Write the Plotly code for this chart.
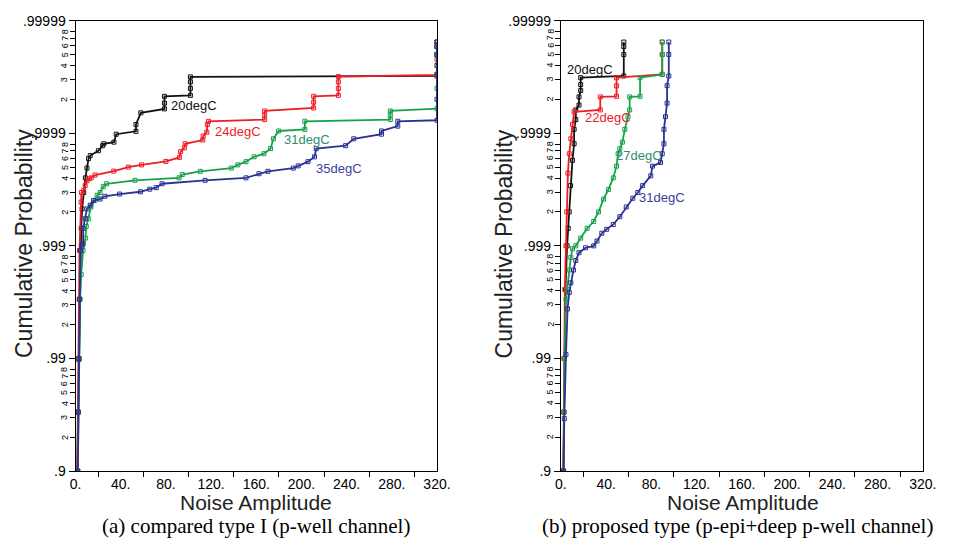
import math
import plotly.graph_objects as go

# ---------------- data (noise amplitude, cumulative probability) ----------------
# (a) compared type I (p-well channel)
a20_x = [1.5, 2.2, 2.9, 3.5, 4.3, 5.0, 5.8, 7.2, 8.7, 10.1, 11.5, 13.0, 20.2, 24.0, 25.0, 34.0, 36.0,
         53.5, 53.5, 57.8, 78.7, 78.7, 78.7, 101.7, 101.7, 101.7, 101.7, 320, 320, 320, 320, 320]
a20_p = [.9, .97, .9898, .99702, .99890, .99930, .99953, .999664, .999751, .999796, .999832, .999842,
         .999857, .999871, .999876, .999880, .999898, .9999038, .9999164, .9999341, .9999392, .999946,
         .999953, .9999539, .999960, .999965, .9999684, .999969, .999975, .999980, .999983, .9999845]

a24_x = [1.5, 2.2, 2.7, 3.2, 3.5, 4.9, 5.2, 7.2, 8.5, 10.1, 12.0, 13.9, 17.3, 33.8, 46.8, 58.4, 80.0,
         92.0, 93.0, 96.3, 97.0, 112.6, 113.0, 116.2, 116.7, 117.7, 167.4, 167.4, 167.4, 210.8, 210.8,
         210.8, 232.7, 232.7, 232.7, 232.7, 320, 320, 320, 320]
a24_p = [.9, .97, .99, .99702, .99890, .999591, .999664, .999677, .999708, .999736, .999746, .999751,
         .999765, .999783, .999800, .999809, .999822, .999836, .999854, .999865, .999876, .999885,
         .999894, .999902, .9999164, .9999217, .9999243, .999931, .9999366, .9999403, .999947, .999953,
         .9999539, .999960, .999965, .9999686, .9999696, .999978, .999983, .9999845]

a31_x = [2.0, 2.6, 3.2, 4.0, 5.0, 6.7, 8.7, 9.5, 11.3, 13.6, 17.3, 19.1, 21.7, 24.5, 27.5, 52.6, 91.7,
         94.5, 110.4, 137.9, 143.7, 150.9, 158.1, 166.8, 172.6, 175.2, 179.8, 203.0, 203.0, 278.7,
         278.7, 278.7, 320, 320, 320, 320, 320]
a31_p = [.9, .97, .99, .99702, .99820, .99890, .999147, .999327, .999426, .999548, .999606, .999644,
         .999664, .999702, .999719, .999738, .999751, .999767, .999782, .999796, .999809, .999821,
         .999838, .999848, .999863, .999888, .9999045, .9999076, .9999217, .9999243, .999931,
         .9999366, .9999395, .99996, .99997, .99998, .9999845]

a35_x = [2.0, 2.5, 3.0, 3.6, 4.3, 5.5, 6.7, 6.7, 8.7, 10.1, 13.0, 15.9, 21.7, 26.0, 39.0, 57.5, 65.7,
         71.4, 76.6, 114.7, 150.9, 162.4, 170.3, 192.8, 197.1, 205.8, 211.6, 213.1, 239.1, 246.3,
         270.9, 270.9, 285.3, 285.3, 320, 320, 320, 320, 320, 320]
a35_p = [.9, .97, .99, .99702, .99890, .99900, .999038, .999300, .999426, .99953, .999565, .999604,
         .999616, .999637, .999653, .999669, .999686, .999696, .999719, .999738, .999751, .999771,
         .999782, .999796, .999805, .999821, .999838, .999863, .999871, .999888, .999898, .9999045,
         .9999135, .9999217, .9999233, .99995, .99997, .99998, .999983, .9999845]

# (b) proposed type (p-epi+deep p-well channel)
b20_x = [2.2, 2.6, 3.0, 4.0, 5.5, 6.5, 7.4, 8.5, 10.2, 11.7, 11.7, 13.2, 13.2, 16.0, 16.0, 17.5, 17.5,
         17.5, 55.6, 55.6, 55.6, 55.6]
b20_p = [.9, .97, .99, .99756, .999, .99930, .999501, .999708, .999826, .999876, .9999076, .9999243,
         .9999379, .9999438, .9999524, .9999582, .999963, .9999679, .999969, .99998, .999983, .9999845]

b22_x = [2.2, 2.5, 2.8, 3.5, 4.5, 5.2, 6.2, 7.4, 8.8, 10.2, 11.7, 34.8, 34.8, 49.2, 49.2, 49.2, 89.6,
         89.6, 89.6]
b22_p = [.9, .97, .99, .99756, .999, .999501, .999774, .999848, .999888, .9999164, .9999354, .9999379,
         .9999524, .999953, .999962, .9999679, .99997, .99998, .9999845]

b27_x = [2.4, 2.8, 3.2, 4.5, 5.4, 7.4, 8.8, 10.2, 13.2, 17.5, 23.2, 29.0, 33.3, 37.7, 42.0, 46.3, 49.2,
         50.6, 52.1, 54.4, 56.5, 59.3, 60.8, 60.8, 70.0, 70.0, 89.6, 89.6, 89.6]
b27_p = [.9, .97, .99, .99702, .99756, .99836, .99873, .99894, .999, .999147, .9993, .999392, .999501,
         .999615, .999684, .999751, .999804, .999848, .999863, .99988, .9999076, .9999287, .9999379,
         .9999524, .999953, .9999679, .99997, .99998, .9999845]

b31_x = [2.4, 3.0, 4.5, 5.9, 7.4, 8.8, 11.1, 13.2, 16.0, 21.8, 29.0, 31.9, 36.2, 40.5, 46.3, 52.1,
         57.8, 63.6, 68.0, 72.3, 79.5, 81.0, 88.1, 89.6, 91.1, 91.1, 92.5, 93.9, 93.9, 95.4, 95.4, 95.4]
b31_p = [.9, .9658, .99076, .99637, .99741, .99787, .99836, .99865, .99885, .99896, .999, .999094,
         .999227, .999287, .999354, .999449, .999548, .999622, .999664, .999708, .999761, .999804,
         .999818, .999848, .999876, .9999076, .9999287, .9999459, .9999622, .999969, .99998, .9999845]

major_p_text = [".9", ".99", ".999", ".9999", ".99999"]
x_tick_vals = [0, 40, 80, 120, 160, 200, 240, 280, 320]
x_tick_text = ["0.", "40.", "80.", "120.", "160.", "200.", "240.", "280.", "320."]
minor_digits = [2, 3, 4, 5, 6, 7, 8]

# ---------------- styling ----------------
W, H = 976, 547
BLACK, RED, GREEN, BLUE = "#111111", "#ee1c25", "#17a24a", "#2b3293"
SANS = "Liberation Sans, Arial, sans-serif"
SERIF = "Liberation Serif, Times New Roman, serif"

AX1 = (71, 440)
AX2 = (566.5, 936)
Y_TOP, Y_BOT = 13, 477

fig = go.Figure()

def tail(ps):
    return [1 - p for p in ps]

series = [
    ("x", "y", a20_x, a20_p, BLACK), ("x", "y", a24_x, a24_p, RED),
    ("x", "y", a31_x, a31_p, GREEN), ("x", "y", a35_x, a35_p, BLUE),
    ("x2", "y2", b20_x, b20_p, BLACK), ("x2", "y2", b22_x, b22_p, RED),
    ("x2", "y2", b27_x, b27_p, GREEN), ("x2", "y2", b31_x, b31_p, BLUE),
]
for xa, ya, xs, ps, col in series:
    fig.add_trace(go.Scatter(
        x=xs, y=tail(ps), xaxis=xa, yaxis=ya, mode="lines+markers",
        line=dict(color=col, width=1.8),
        marker=dict(symbol="square-open", size=4, color=col, line=dict(width=1, color=col)),
        showlegend=False, hoverinfo="skip"))

major_vals = [10 ** -(k + 1) for k in range(5)]
minor_vals = [10 ** -k / m for k in range(1, 5) for m in minor_digits]

def yaxis_cfg():
    return dict(type="log", range=[-1, -5], autorange=False,
                tickvals=major_vals, ticktext=major_p_text, ticks="outside", ticklen=6,
                tickwidth=1, tickcolor="black", showgrid=False, zeroline=False,
                showline=True, linecolor="black", linewidth=1, mirror=True,
                tickfont=dict(family=SANS, size=14, color="black"),
                minor=dict(tickvals=minor_vals, ticks="outside", ticklen=5,
                           tickcolor="black", tickwidth=1, showgrid=False))

def xaxis_cfg(dom):
    return dict(domain=dom, range=[0, 320], autorange=False,
                tickvals=x_tick_vals, ticktext=x_tick_text, ticks="",
                showgrid=False, zeroline=False, showline=True, linecolor="black",
                linewidth=1, mirror=True,
                tickfont=dict(family=SANS, size=14, color="black"),
                minor=dict(tickvals=[20, 60, 100, 140, 180, 220, 260, 300], ticks="outside",
                           ticklen=5, tickcolor="black", tickwidth=1, showgrid=False))

ydom = [(H - Y_BOT) / H, (H - Y_TOP) / H]
fig.update_layout(
    width=W, height=H, autosize=False, margin=dict(l=0, r=0, t=0, b=0),
    paper_bgcolor="white", plot_bgcolor="white",
    xaxis=xaxis_cfg([AX1[0] / W, AX1[1] / W]),
    xaxis2=xaxis_cfg([AX2[0] / W, AX2[1] / W]),
    yaxis=dict(domain=ydom, anchor="x", **yaxis_cfg()),
    yaxis2=dict(domain=ydom, anchor="x2", **yaxis_cfg()),
)
fig.layout.xaxis.anchor = "y"
fig.layout.xaxis2.anchor = "y2"

ann = []
for axpx, yref in ((AX1[0], "y"), (AX2[0], "y2")):
    for k in range(1, 5):
        for m in minor_digits:
            ann.append(dict(x=(axpx - 11) / W, xref="paper", y=math.log10(10 ** -k / m), yref=yref,
                            text=str(m), textangle=-90, showarrow=False,
                            xanchor="center", yanchor="middle",
                            font=dict(family=SANS, size=9, color="black")))

labels = [
    ("x", "y", 105, -4.25, "20degC", BLACK), ("x", "y", 144, -4.017, "24degC", RED),
    ("x", "y", 205, -3.948, "31degC", "#2f8f6a"), ("x", "y", 233.3, -3.69, "35degC", "#3b40a0"),
    ("x2", "y2", 25.5, -4.569, "20degC", BLACK), ("x2", "y2", 41.6, -4.138, "22degC", RED),
    ("x2", "y2", 68.8, -3.802, "27degC", "#2f8f6a"), ("x2", "y2", 89.6, -3.431, "31degC", "#3b40a0"),
]
for xr, yr, xv, yv, txt, col in labels:
    ann.append(dict(x=xv, xref=xr, y=yv, yref=yr, text=txt, showarrow=False,
                    xanchor="center", yanchor="middle",
                    font=dict(family=SANS, size=13, color=col)))

for cx in (255.5 / W, 752 / W):
    ann.append(dict(x=cx, y=(H - 509) / H, xref="paper", yref="paper", text="Noise Amplitude",
                    showarrow=False, xanchor="center", yanchor="middle",
                    font=dict(family=SANS, size=21, color="#222222")))
for cx in (18.5 / W, 508 / W):
    ann.append(dict(x=cx, y=(H - 243) / H, xref="paper", yref="paper", text="Cumulative Probability",
                    textangle=-90, showarrow=False, xanchor="center", yanchor="middle",
                    font=dict(family=SANS, size=23, color="#222222")))

ann.append(dict(x=255 / W, y=(H - 534) / H, xref="paper", yref="paper",
                text="(a) compared type I (p-well channel)", showarrow=False,
                xanchor="center", yanchor="middle", font=dict(family=SERIF, size=21, color="black")))
ann.append(dict(x=747 / W, y=(H - 534) / H, xref="paper", yref="paper",
                text="(b) proposed type (p-epi+deep p-well channel)", showarrow=False,
                xanchor="center", yanchor="middle", font=dict(family=SERIF, size=21, color="black")))

fig.update_layout(annotations=ann)
fig.write_html("out.html")
